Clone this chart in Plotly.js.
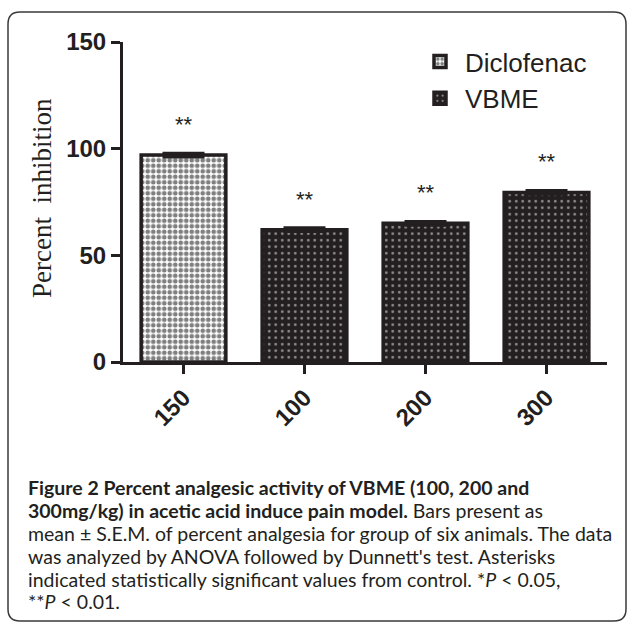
<!DOCTYPE html>
<html>
<head>
<meta charset="utf-8">
<script src="https://cdn.plot.ly/plotly-3.0.1.min.js"></script>
<style>html,body{margin:0;padding:0;background:#fff;}#chart{width:629px;height:622px;}</style>
</head>
<body>
<div id="chart"></div>
<script>
// ---- data ----
const categories = ["150", "100", "200", "300"];
const diclofenacValues = [97, null, null, null];
const diclofenacErrors = [1, 0, 0, 0];
const vbmeValues = [null, 62, 65, 79.5];
const vbmeErrors = [0, 1, 1, 1];
const seriesNames = ["Diclofenac", "VBME"];
const significance = ["**", "**", "**", "**"];
const yTickValues = [0, 50, 100, 150];
const captionLines = [
  "<b>Figure 2 Percent analgesic activity of VBME (100, 200 and</b>",
  "<b>300mg/kg) in acetic acid induce pain model.</b> Bars present as",
  "mean ± S.E.M. of percent analgesia for group of six animals. The data",
  "was analyzed by ANOVA followed by Dunnett's test. Asterisks",
  "indicated statistically significant values from control. *<i>P</i> < 0.05,",
  "**<i>P</i> < 0.01."
];

// ---- layout helpers (pixel -> paper) ----
const W = 629, H = 622;
const M = {l: 123, r: 22, t: 42, b: 260};
const PW = W - M.l - M.r, PH = H - M.t - M.b;
const px = v => (v - M.l) / PW;
const py = v => (H - M.b - v) / PH;
const dark = "#231f20";

const traces = [
  {
    type: "bar", name: seriesNames[0], x: categories, y: diclofenacValues,
    width: 0.7,
    marker: {color: "#ffffff", line: {color: dark, width: 3.5},
      pattern: {shape: ".", fgcolor: "#000000", bgcolor: "#ffffff", size: 5.5, solidity: 0.55, fillmode: "overlay"}},
    error_y: {type: "data", array: diclofenacErrors, visible: true, color: dark, thickness: 2.5, width: 21}
  },
  {
    type: "bar", name: seriesNames[1], x: categories, y: vbmeValues,
    width: 0.7,
    marker: {color: dark, line: {color: dark, width: 3.5},
      pattern: {shape: ".", fgcolor: "#ffffff", bgcolor: dark, size: 6.5, solidity: 0.14, fillmode: "overlay"}},
    error_y: {type: "data", array: vbmeErrors, visible: true, color: dark, thickness: 2.5, width: 21}
  }
];

const annotations = [];
categories.forEach((c, i) => {
  const v = diclofenacValues[i] != null ? diclofenacValues[i] : vbmeValues[i];
  const e = diclofenacErrors[i] || vbmeErrors[i];
  annotations.push({x: i, y: v + e, xref: "x", yref: "y", text: significance[i], showarrow: false,
    yanchor: "bottom", yshift: 14, font: {family: "Liberation Sans, Arial", size: 22, color: dark}});
});
annotations.push({x: px(42), y: py(198), xref: "paper", yref: "paper", text: "Percent  inhibition",
  textangle: -90, showarrow: false, xanchor: "center", yanchor: "middle",
  font: {family: "Liberation Serif, Times New Roman, serif", size: 27, color: dark}});
const lineY = [487, 510, 533, 556, 579, 601];
captionLines.forEach((t, i) => {
  annotations.push({x: px(26), y: py(lineY[i]), xref: "paper", yref: "paper", text: t, showarrow: false,
    xanchor: "left", yanchor: "middle", align: "left",
    font: {family: "Lato, Open Sans, sans-serif", size: 19.5, color: "#231f20"}});
});

// rounded frame
const x0 = px(8), x1 = px(626), y0 = py(12), y1 = py(621);
const rx = 12 / PW, ry = 12 / PH;
const framePath = `M${x0 + rx},${y0} L${x1 - rx},${y0} Q${x1},${y0} ${x1},${y0 - ry} L${x1},${y1 + ry} Q${x1},${y1} ${x1 - rx},${y1} L${x0 + rx},${y1} Q${x0},${y1} ${x0},${y1 + ry} L${x0},${y0 - ry} Q${x0},${y0} ${x0 + rx},${y0} Z`;

const layout = {
  width: W, height: H,
  margin: M,
  paper_bgcolor: "#ffffff", plot_bgcolor: "#ffffff",
  showlegend: true,
  barmode: "overlay",
  legend: {x: px(415), y: py(38), xanchor: "left", yanchor: "top", bgcolor: "rgba(0,0,0,0)",
    font: {family: "Liberation Sans, Arial", size: 26, color: dark}, itemwidth: 40, tracegroupgap: 0},
  xaxis: {type: "category", range: [-0.5, 3.5], showline: true, linecolor: dark, linewidth: 3,
    ticks: "outside", ticklen: 9, tickwidth: 3, tickcolor: dark, tickangle: -45,
    tickfont: {family: "Liberation Sans, Arial", size: 24, color: dark, weight: "bold"},
    showgrid: false, zeroline: false, fixedrange: true},
  yaxis: {range: [0, 150], tickvals: yTickValues, ticktext: yTickValues.map(String), showline: true, linecolor: dark, linewidth: 3,
    ticks: "outside", ticklen: 9, tickwidth: 3, tickcolor: dark,
    tickfont: {family: "Liberation Sans, Arial", size: 24, color: dark, weight: "bold"},
    showgrid: false, zeroline: false, fixedrange: true},
  shapes: [{type: "path", xref: "paper", yref: "paper", path: framePath, line: {color: "#3a3a3a", width: 1.5}, fillcolor: "rgba(0,0,0,0)", layer: "below"}],
  annotations: annotations
};

Plotly.newPlot("chart", traces, layout, {displayModeBar: false, staticPlot: true});
</script>
</body>
</html>
